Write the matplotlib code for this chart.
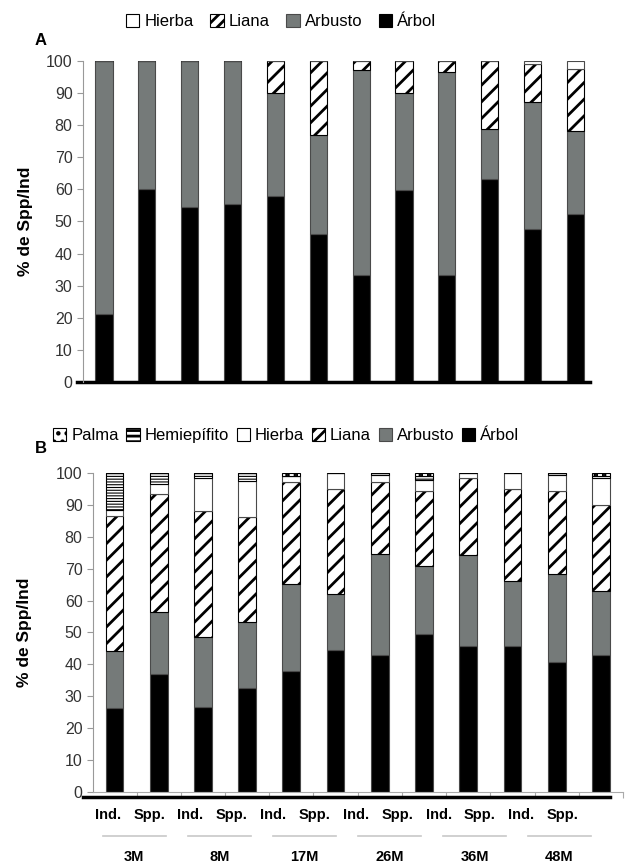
import numpy as np
import matplotlib
matplotlib.use('Agg')
import matplotlib.pyplot as plt
from matplotlib.patches import Patch
from matplotlib.lines import Line2D

plt.rcParams['font.family'] = ['Liberation Sans', 'DejaVu Sans']
plt.rcParams['hatch.linewidth'] = 2.0
plt.rcParams['hatch.color'] = 'black'

# Panel A: 12 muestras, % por forma de vida
arbol_a = [21.2, 60.0, 54.5, 55.5, 58.0, 46.2, 33.3, 59.9, 33.4, 63.1, 47.6, 52.3]
arbusto_a = [78.8, 40.0, 45.5, 44.5, 32.1, 30.6, 64.0, 30.0, 63.1, 15.7, 39.5, 26.0]
liana_a = [0, 0, 0, 0, 9.9, 23.2, 2.7, 10.1, 3.5, 21.2, 12.1, 19.2]
hierba_a = [0, 0, 0, 0, 0, 0, 0, 0, 0, 0, 0.8, 2.5]

# Panel B: Ind./Spp. para cada edad
edades = ['3M', '8M', '17M', '26M', '36M', '48M']
tipos = ['Ind.', 'Spp.']
arbol_b = [26.3, 37.0, 26.6, 32.7, 38.0, 44.4, 43.1, 49.5, 45.9, 45.9, 40.8, 42.9]
arbusto_b = [17.9, 19.5, 22.1, 20.6, 27.2, 17.6, 31.5, 21.2, 28.5, 20.1, 27.5, 20.0]
liana_b = [42.2, 36.9, 39.5, 32.8, 31.9, 33.0, 22.7, 23.6, 23.9, 29.0, 26.2, 27.2]
hierba_b = [1.9, 3.3, 10.2, 11.5, 1.9, 5.0, 2.0, 3.6, 1.7, 5.0, 4.8, 8.3]
hemi_b = [11.7, 3.3, 1.6, 2.4, 0, 0, 0.7, 1.1, 0, 0, 0.7, 0.8]
palma_b = [0, 0, 0, 0, 1.0, 0, 0, 1.0, 0, 0, 0, 0.8]

gris = '#757a79'
borde = '#4a4a4a'
rayas = '//'
lineas = '------'

fig = plt.figure(figsize=(6.25, 8.63), dpi=100)
axA = fig.add_axes([0.1328, 0.5574, 0.8112, 0.3719])
axB = fig.add_axes([0.1488, 0.0823, 0.848, 0.3696])


def apilar(ax, capas, x, w):
    base = np.zeros(len(x))
    for vals, color, hatch in capas:
        vals = np.array(vals)
        ec = 'black' if hatch else borde
        hlw = 0.8 if hatch == lineas else 2.0
        with plt.rc_context({'hatch.linewidth': hlw}):
            ax.bar(x, vals, w, bottom=base, color=color, edgecolor=ec,
                   linewidth=0.8, hatch=hatch)
        base = base + vals


def ejes(ax):
    ax.set_ylim(0, 100)
    ax.set_yticks(np.arange(0, 101, 10))
    for s in ['top', 'right']:
        ax.spines[s].set_visible(False)
    ax.spines['left'].set_color('#999999')
    ax.tick_params(axis='y', colors='#999999', labelcolor='#333333',
                   labelsize=11.5, length=4, width=0.8)
    ax.set_ylabel('% de Spp/Ind', fontsize=12.5, fontweight='bold')


# ---- A ----
xa = np.arange(len(arbol_a))
apilar(axA, [(arbol_a, 'black', None), (arbusto_a, gris, None),
             (liana_a, 'white', rayas), (hierba_a, 'white', None)], xa, 0.4)
ejes(axA)
axA.set_xlim(-0.49, 11.34)
axA.set_xticks([])
axA.spines['bottom'].set_visible(False)
axA.add_line(Line2D([-0.012, 1.0], [0, 0], transform=axA.transAxes,
                    color='black', linewidth=2.5, clip_on=False))
axA.yaxis.set_label_coords(-0.098, 0.5)

hA = [Patch(facecolor='white', edgecolor='black', linewidth=0.8, label='Hierba'),
      Patch(facecolor='white', edgecolor='black', linewidth=0.8, hatch='///', label='Liana'),
      Patch(facecolor=gris, edgecolor=borde, linewidth=0.8, label='Arbusto'),
      Patch(facecolor='black', edgecolor='black', linewidth=0.8, label='Árbol')]
fig.legend(handles=hA, loc='center', bbox_to_anchor=(0.45, 0.975), ncol=4,
           frameon=False, fontsize=12, handlelength=0.8, handleheight=0.8,
           handletextpad=0.3, columnspacing=1.0)
fig.text(0.055, 0.948, 'A', fontsize=12, fontweight='bold')

# ---- B ----
xb = np.arange(len(arbol_b))
apilar(axB, [(arbol_b, 'black', None), (arbusto_b, gris, None),
             (liana_b, 'white', rayas), (hierba_b, 'white', None),
             (hemi_b, 'white', lineas), (palma_b, 'white', '..')], xb, 0.4)
ejes(axB)
axB.set_xlim(-0.485, 11.48)
axB.spines['bottom'].set_color('#aaaaaa')
axB.set_xticks(np.arange(0.5, 12, 1.0))
axB.set_xticklabels([])
axB.tick_params(axis='x', colors='#aaaaaa', length=4, width=0.8)
axB.add_line(Line2D([-0.019, 0.975], [-0.016, -0.016], transform=axB.transAxes,
                    color='black', linewidth=2.5, clip_on=False))
axB.yaxis.set_label_coords(-0.115, 0.5)

tr = axB.get_xaxis_transform()
for i in range(12):
    axB.text(-0.15 + 0.935 * i, -0.072, tipos[i % 2], transform=tr,
             ha='center', va='center', fontsize=10.5, fontweight='bold')
for g, e in enumerate(edades):
    c = 0.45 + 1.923 * g
    axB.add_line(Line2D([c - 0.72, c + 0.72], [-0.138, -0.138], transform=tr,
                        color='#c8c8c8', linewidth=1.2, clip_on=False))
    axB.text(c, -0.204, e, transform=tr, ha='center', va='center',
             fontsize=10.5, fontweight='bold')

hB = [Patch(facecolor='white', edgecolor='black', linewidth=0.8, hatch='..', label='Palma'),
      Patch(facecolor='white', edgecolor='black', linewidth=0.8, hatch='---', label='Hemiepífito'),
      Patch(facecolor='white', edgecolor='black', linewidth=0.8, label='Hierba'),
      Patch(facecolor='white', edgecolor='black', linewidth=0.8, hatch='///', label='Liana'),
      Patch(facecolor=gris, edgecolor=borde, linewidth=0.8, label='Arbusto'),
      Patch(facecolor='black', edgecolor='black', linewidth=0.8, label='Árbol')]
fig.legend(handles=hB, loc='center', bbox_to_anchor=(0.458, 0.495), ncol=6,
           frameon=False, fontsize=12, handlelength=0.8, handleheight=0.8,
           handletextpad=0.3, columnspacing=0.45)
fig.text(0.055, 0.475, 'B', fontsize=12, fontweight='bold')

fig.savefig('out.png', dpi=100)
